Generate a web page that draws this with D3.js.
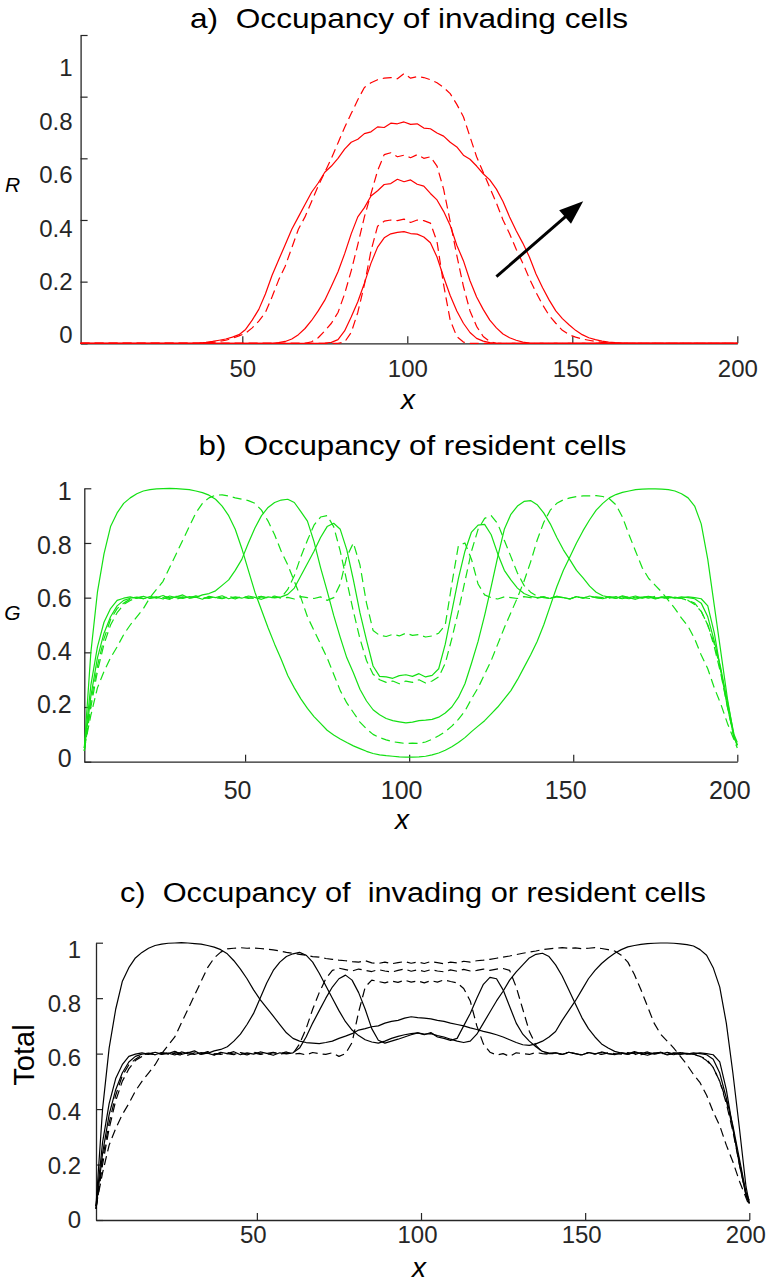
<!DOCTYPE html>
<html><head><meta charset="utf-8">
<script src="https://cdn.jsdelivr.net/npm/d3@7"></script>
<style>
body{margin:0;background:#fff}
svg{display:block}
text{font-family:"Liberation Sans",Arial,Helvetica,sans-serif}
</style>
</head><body>
<svg id="chart" width="771" height="1285"></svg>
<script>
// ---------- data ----------
const xGrid = d3.range(1, 200, 2).concat([200]); // lattice sites sampled
const xTickValues = [50, 100, 150, 200];
const yTickValues = [0, 0.2, 0.4, 0.6, 0.8, 1];
const yTickLabels = ["0", "0.2", "0.4", "0.6", "0.8", "1"];
const titles = ["a)  Occupancy of invading cells", "b)  Occupancy of resident cells", "c)  Occupancy of  invading or resident cells"];
const yAxisNames = ["R", "G", "Total"];
const arrowX = [127, 153.3];
const arrowY = [0.216, 0.461];

// a) invading cells R
const rS1 = [0,0,0,0,0,0,0,0,0,0, 0,0,0,0,0,0,0,0,0,0, 0,0,0,0,0,0,0,0,0,0,
 0,0,0,0,0,0,0,0.001,0.003,0.012,
 0.04,0.085,0.135,0.195,0.26,0.312,0.342,0.355,0.36,0.362,
 0.356,0.354,0.345,0.326,0.28,0.215,0.155,0.105,0.065,0.035,
 0.016,0.007,0.002,0,0,0,0,0,0,0,
 0,0,0,0,0,0,0,0,0,0, 0,0,0,0,0,0,0,0,0,0, 0,0,0,0,0,0,0,0,0,0, 0];
const rD1 = [0,0,0,0,0,0,0,0,0,0, 0,0,0,0,0,0,0,0,0,0, 0,0,0,0,0,0,0,0,0,0,
 0,0,0,0,0,0,0,0,0,0,
 0.004,0.035,0.1,0.19,0.3,0.38,0.396,0.4,0.398,0.403,
 0.392,0.4,0.398,0.39,0.33,0.19,0.075,0.022,0.004,0,
 0,0,0,0,0,0,0,0,0,0, 0,0,0,0,0,0,0,0,0,0, 0,0,0,0,0,0,0,0,0,0, 0,0,0,0,0,0,0,0,0,0, 0];
const rS2 = [0,0,0,0,0,0,0,0,0,0, 0,0,0,0,0,0,0,0,0,0, 0,0,0,0,0,0,0,0,0,0,
 0.002,0.006,0.014,0.028,0.048,0.074,0.105,0.14,0.185,0.232,
 0.29,0.355,0.41,0.44,0.478,0.495,0.515,0.518,0.532,0.524,
 0.53,0.516,0.51,0.486,0.465,0.428,0.382,0.318,0.268,0.203,
 0.15,0.11,0.075,0.05,0.03,0.018,0.01,0.004,0.001,0,
 0,0,0,0,0,0,0,0,0,0, 0,0,0,0,0,0,0,0,0,0, 0,0,0,0,0,0,0,0,0,0, 0];
const rD2 = [0,0,0,0,0,0,0,0,0,0, 0,0,0,0,0,0,0,0,0,0, 0,0,0,0,0,0,0,0,0,0,
 0,0,0,0,0,0.005,0.018,0.04,0.065,0.1,
 0.16,0.235,0.32,0.41,0.485,0.56,0.612,0.618,0.605,0.61,
 0.602,0.612,0.6,0.605,0.575,0.5,0.395,0.285,0.185,0.105,
 0.055,0.022,0.006,0,0,0,0,0,0,0,
 0,0,0,0,0,0,0,0,0,0, 0,0,0,0,0,0,0,0,0,0, 0,0,0,0,0,0,0,0,0,0, 0];
const rS3 = [0,0,0,0,0,0,0,0,0,0,
 0,0,0,0,0,0,0,0,0.001,0.003,
 0.006,0.01,0.014,0.02,0.028,0.045,0.075,0.11,0.16,0.22,
 0.27,0.32,0.37,0.41,0.45,0.49,0.52,0.555,0.575,0.6,
 0.63,0.652,0.662,0.68,0.686,0.702,0.7,0.714,0.712,0.718,
 0.71,0.712,0.698,0.696,0.682,0.672,0.652,0.637,0.61,0.597,
 0.575,0.55,0.53,0.5,0.46,0.41,0.365,0.325,0.28,0.225,
 0.18,0.14,0.105,0.08,0.06,0.042,0.028,0.018,0.012,0.007,
 0.004,0.002,0.001,0,0,0,0,0,0,0,
 0,0,0,0,0,0,0,0,0,0, 0];
const rD3 = [0,0,0,0,0,0,0,0,0,0,
 0,0,0,0,0,0,0,0,0,0.001,
 0.003,0.006,0.01,0.016,0.024,0.033,0.05,0.072,0.1,0.15,
 0.205,0.25,0.31,0.37,0.41,0.46,0.51,0.555,0.6,0.65,
 0.7,0.745,0.79,0.83,0.845,0.855,0.86,0.862,0.858,0.875,
 0.86,0.865,0.862,0.855,0.845,0.83,0.81,0.775,0.735,0.67,
 0.605,0.555,0.505,0.455,0.4,0.355,0.305,0.26,0.21,0.165,
 0.125,0.09,0.065,0.042,0.028,0.02,0.014,0.01,0.006,0.003,
 0.001,0,0,0,0,0,0,0,0,0,
 0,0,0,0,0,0,0,0,0,0, 0];

// b) resident cells G
const gS1 = [0.04,0.24,0.38,0.47,0.53,0.57,0.59,0.598,0.602,0.596,
 0.604,0.6,0.608,0.597,0.603,0.61,0.598,0.602,0.594,0.605,
 0.6,0.607,0.596,0.603,0.598,0.606,0.601,0.594,0.603,0.599,
 0.603,0.612,0.635,0.68,0.725,0.77,0.82,0.86,0.872,0.85,
 0.775,0.665,0.545,0.445,0.35,0.312,0.31,0.305,0.315,0.318,
 0.312,0.322,0.31,0.316,0.34,0.43,0.55,0.67,0.77,0.84,
 0.865,0.868,0.83,0.76,0.7,0.665,0.635,0.615,0.605,0.6,
 0.603,0.597,0.605,0.6,0.595,0.604,0.598,0.606,0.6,0.596,
 0.603,0.598,0.607,0.6,0.594,0.602,0.605,0.597,0.603,0.599,
 0.601,0.598,0.603,0.6,0.596,0.57,0.47,0.33,0.2,0.09,
 0.06];
const gS2 = [0.05,0.28,0.42,0.51,0.56,0.59,0.598,0.603,0.597,0.605,
 0.598,0.602,0.595,0.606,0.6,0.597,0.604,0.601,0.61,0.615,
 0.625,0.645,0.665,0.7,0.74,0.8,0.855,0.9,0.93,0.948,
 0.957,0.96,0.948,0.915,0.88,0.805,0.71,0.625,0.535,0.455,
 0.38,0.325,0.265,0.222,0.19,0.172,0.158,0.15,0.146,0.142,
 0.145,0.15,0.152,0.155,0.163,0.178,0.2,0.235,0.285,0.36,
 0.44,0.535,0.64,0.75,0.85,0.905,0.935,0.952,0.955,0.94,
 0.91,0.87,0.82,0.775,0.738,0.7,0.672,0.642,0.62,0.607,
 0.602,0.597,0.604,0.6,0.606,0.598,0.603,0.595,0.601,0.604,
 0.598,0.603,0.6,0.596,0.58,0.53,0.44,0.34,0.22,0.1,
 0.07];
const gS3 = [0.05,0.4,0.62,0.76,0.86,0.91,0.945,0.965,0.98,0.99,
 0.995,0.998,0.999,1.0,0.999,0.997,0.995,0.99,0.984,0.975,
 0.96,0.935,0.9,0.85,0.78,0.7,0.62,0.555,0.49,0.43,
 0.375,0.315,0.27,0.23,0.195,0.165,0.14,0.115,0.098,0.083,
 0.07,0.058,0.048,0.038,0.03,0.025,0.022,0.02,0.018,0.017,
 0.017,0.018,0.02,0.025,0.032,0.042,0.055,0.07,0.088,0.11,
 0.13,0.15,0.175,0.2,0.23,0.26,0.3,0.345,0.39,0.44,
 0.5,0.57,0.64,0.7,0.75,0.8,0.845,0.885,0.92,0.945,
 0.965,0.977,0.985,0.99,0.995,0.997,0.998,0.998,0.997,0.995,
 0.99,0.98,0.965,0.935,0.87,0.74,0.57,0.4,0.23,0.09,
 0.06];
const gD1 = [0.04,0.2,0.33,0.43,0.5,0.545,0.575,0.59,0.6,0.596,
 0.603,0.598,0.606,0.6,0.594,0.603,0.599,0.607,0.6,0.597,
 0.604,0.598,0.602,0.595,0.605,0.6,0.597,0.603,0.6,0.606,
 0.598,0.601,0.595,0.604,0.6,0.597,0.603,0.59,0.6,0.65,
 0.75,0.8,0.72,0.58,0.48,0.462,0.458,0.466,0.46,0.47,
 0.462,0.465,0.456,0.46,0.47,0.5,0.65,0.79,0.8,0.74,
 0.65,0.61,0.6,0.595,0.603,0.6,0.597,0.604,0.6,0.598,
 0.603,0.598,0.605,0.6,0.596,0.603,0.599,0.604,0.6,0.597,
 0.603,0.6,0.596,0.604,0.599,0.602,0.598,0.605,0.6,0.597,
 0.601,0.598,0.59,0.575,0.55,0.5,0.42,0.32,0.2,0.09,
 0.06];
const gD2 = [0.04,0.22,0.35,0.45,0.52,0.56,0.58,0.595,0.6,0.604,
 0.597,0.603,0.6,0.594,0.605,0.6,0.598,0.603,0.597,0.602,
 0.6,0.596,0.604,0.599,0.603,0.597,0.601,0.605,0.598,0.602,
 0.6,0.63,0.68,0.75,0.81,0.865,0.895,0.9,0.86,0.77,
 0.66,0.55,0.45,0.37,0.32,0.3,0.29,0.295,0.285,0.295,
 0.29,0.3,0.288,0.295,0.31,0.36,0.45,0.55,0.66,0.77,
 0.85,0.89,0.9,0.87,0.81,0.75,0.69,0.645,0.62,0.605,
 0.6,0.597,0.603,0.6,0.595,0.604,0.6,0.597,0.603,0.6,
 0.598,0.604,0.6,0.596,0.602,0.599,0.605,0.6,0.596,0.603,
 0.6,0.597,0.59,0.58,0.55,0.5,0.43,0.33,0.21,0.09,
 0.06];
const gD3 = [0.05,0.17,0.27,0.33,0.38,0.42,0.465,0.5,0.53,0.56,
 0.6,0.63,0.66,0.71,0.76,0.81,0.86,0.91,0.945,0.965,
 0.975,0.976,0.972,0.965,0.96,0.955,0.945,0.92,0.88,0.83,
 0.77,0.72,0.66,0.6,0.53,0.48,0.43,0.38,0.32,0.26,
 0.215,0.18,0.145,0.12,0.1,0.088,0.08,0.073,0.07,0.066,
 0.068,0.067,0.072,0.082,0.095,0.11,0.13,0.155,0.185,0.23,
 0.27,0.32,0.37,0.43,0.49,0.545,0.6,0.66,0.73,0.81,
 0.875,0.92,0.945,0.958,0.965,0.97,0.972,0.972,0.973,0.97,
 0.962,0.94,0.895,0.83,0.77,0.71,0.67,0.645,0.62,0.59,
 0.56,0.525,0.495,0.45,0.39,0.34,0.27,0.21,0.14,0.08,
 0.05];

// c) total occupancy
const tS1 = [0.04,0.24,0.38,0.47,0.53,0.57,0.59,0.598,0.602,0.596,
 0.604,0.6,0.608,0.597,0.603,0.61,0.598,0.602,0.594,0.605,
 0.6,0.607,0.596,0.603,0.598,0.606,0.601,0.594,0.603,0.599,
 0.603,0.62,0.66,0.71,0.755,0.8,0.84,0.87,0.883,0.865,
 0.82,0.76,0.69,0.648,0.638,0.645,0.652,0.66,0.668,0.675,
 0.668,0.676,0.66,0.655,0.648,0.655,0.7,0.745,0.8,0.85,
 0.875,0.87,0.83,0.77,0.71,0.67,0.645,0.625,0.608,0.602,
 0.603,0.597,0.605,0.6,0.595,0.604,0.598,0.606,0.6,0.596,
 0.603,0.598,0.607,0.6,0.594,0.602,0.605,0.597,0.603,0.599,
 0.601,0.598,0.603,0.6,0.596,0.57,0.47,0.33,0.2,0.09,
 0.06];
const tS2 = [0.05,0.28,0.42,0.51,0.56,0.59,0.598,0.603,0.597,0.605,
 0.598,0.602,0.595,0.606,0.6,0.597,0.604,0.601,0.61,0.615,
 0.625,0.645,0.67,0.705,0.745,0.8,0.855,0.9,0.93,0.95,
 0.96,0.965,0.955,0.93,0.89,0.845,0.8,0.755,0.715,0.685,
 0.665,0.65,0.642,0.638,0.645,0.655,0.662,0.668,0.672,0.675,
 0.67,0.672,0.665,0.66,0.652,0.645,0.64,0.645,0.67,0.71,
 0.75,0.79,0.825,0.865,0.895,0.92,0.945,0.958,0.962,0.95,
 0.92,0.88,0.83,0.78,0.73,0.69,0.66,0.635,0.62,0.608,
 0.602,0.597,0.604,0.6,0.606,0.598,0.603,0.595,0.601,0.604,
 0.598,0.603,0.6,0.596,0.58,0.53,0.44,0.34,0.22,0.1,
 0.07];
const tS3 = [0.05,0.4,0.62,0.76,0.86,0.91,0.945,0.965,0.98,0.99,
 0.995,0.998,0.999,1.0,0.999,0.997,0.995,0.99,0.984,0.975,
 0.96,0.935,0.905,0.87,0.83,0.795,0.765,0.735,0.705,0.675,
 0.655,0.645,0.64,0.638,0.636,0.64,0.645,0.655,0.663,0.672,
 0.685,0.69,0.697,0.7,0.71,0.716,0.72,0.728,0.733,0.73,
 0.728,0.725,0.72,0.716,0.71,0.705,0.7,0.693,0.687,0.68,
 0.675,0.668,0.66,0.65,0.64,0.632,0.63,0.635,0.645,0.66,
 0.68,0.72,0.755,0.79,0.83,0.87,0.9,0.925,0.945,0.962,
 0.975,0.985,0.99,0.994,0.997,0.998,0.999,0.999,0.998,0.996,
 0.993,0.988,0.975,0.955,0.91,0.84,0.71,0.53,0.33,0.12,
 0.06];
const tD1 = [0.04,0.2,0.33,0.43,0.5,0.545,0.575,0.59,0.6,0.596,
 0.603,0.598,0.606,0.6,0.594,0.603,0.599,0.607,0.6,0.597,
 0.604,0.598,0.602,0.595,0.605,0.6,0.597,0.603,0.6,0.606,
 0.598,0.601,0.595,0.604,0.6,0.597,0.603,0.59,0.6,0.64,
 0.75,0.84,0.865,0.86,0.855,0.862,0.857,0.865,0.858,0.862,
 0.855,0.863,0.858,0.866,0.86,0.855,0.835,0.79,0.7,0.635,
 0.605,0.595,0.6,0.59,0.603,0.6,0.597,0.604,0.6,0.598,
 0.603,0.598,0.605,0.6,0.596,0.603,0.599,0.604,0.6,0.597,
 0.603,0.6,0.596,0.604,0.599,0.602,0.598,0.605,0.6,0.597,
 0.601,0.598,0.59,0.575,0.55,0.5,0.42,0.32,0.2,0.09,
 0.06];
const tD2 = [0.04,0.22,0.35,0.45,0.52,0.56,0.58,0.595,0.6,0.604,
 0.597,0.603,0.6,0.594,0.605,0.6,0.598,0.603,0.597,0.602,
 0.6,0.596,0.604,0.599,0.603,0.597,0.601,0.605,0.598,0.602,
 0.6,0.635,0.69,0.76,0.82,0.87,0.9,0.908,0.903,0.898,
 0.905,0.9,0.896,0.903,0.898,0.894,0.9,0.905,0.897,0.902,
 0.896,0.903,0.898,0.895,0.902,0.897,0.904,0.898,0.9,0.905,
 0.9,0.905,0.907,0.9,0.84,0.76,0.68,0.63,0.605,0.6,
 0.6,0.597,0.603,0.6,0.595,0.604,0.6,0.597,0.603,0.6,
 0.598,0.604,0.6,0.596,0.602,0.599,0.605,0.6,0.596,0.603,
 0.6,0.597,0.59,0.58,0.55,0.5,0.43,0.33,0.21,0.09,
 0.06];
const tD3 = [0.05,0.17,0.27,0.33,0.38,0.42,0.465,0.5,0.53,0.56,
 0.6,0.63,0.66,0.71,0.76,0.81,0.86,0.91,0.945,0.966,
 0.978,0.98,0.982,0.98,0.981,0.979,0.977,0.974,0.97,0.965,
 0.962,0.958,0.955,0.95,0.948,0.943,0.94,0.937,0.935,0.932,
 0.93,0.935,0.927,0.925,0.93,0.924,0.928,0.932,0.926,0.93,
 0.925,0.932,0.928,0.924,0.93,0.927,0.933,0.93,0.935,0.937,
 0.94,0.944,0.948,0.952,0.957,0.962,0.966,0.97,0.975,0.978,
 0.98,0.982,0.98,0.981,0.978,0.98,0.982,0.979,0.975,0.97,
 0.955,0.93,0.885,0.83,0.77,0.71,0.67,0.645,0.62,0.59,
 0.56,0.525,0.495,0.45,0.39,0.34,0.27,0.21,0.14,0.08,
 0.05];

// ---------- layout ----------
const svg = d3.select("#chart");
const AX = "#262626";

const panels = [
  {series: [[rS1,false],[rS2,false],[rS3,false],[rD1,true],[rD2,true],[rD3,true]],
   color: "#ff0000", title: titles[0], tx: 409, ty: 28.3, tsize: 28, tlen: 438,
   x0: 80.6, x1: 737.3, yb: 343.3, yt: 35, labB: 335, labT: 68.3,
   xPad: 16.7, xdx: 0, yPad: 8, tickFont: 24,
   yName: yAxisNames[0], yNameX: 12.5, yNameY: 191.7, yNameSize: 21, yNameItalic: true, yNameRot: false,
   xNameX: 408, xNameY: 409},
  {series: [[gS1,false],[gS2,false],[gS3,false],[gD1,true],[gD2,true],[gD3,true]],
   color: "#14e014", title: titles[1], tx: 412.5, ty: 455, tsize: 28, tlen: 428,
   x0: 84.3, x1: 737.3, yb: 761.7, yt: 488.3, labB: 758.3, labT: 491.7,
   xPad: 19.3, xdx: -8, yPad: 12.6, tickFont: 25,
   yName: yAxisNames[1], yNameX: 12.5, yNameY: 620, yNameSize: 21, yNameItalic: true, yNameRot: false,
   xNameX: 402, xNameY: 829},
  {series: [[tS1,false],[tS2,false],[tS3,false],[tD1,true],[tD2,true],[tD3,true]],
   color: "#000000", title: titles[2], tx: 413, ty: 902, tsize: 27, tlen: 586,
   x0: 96, x1: 749.3, yb: 1220, yt: 942.7, labB: 1220, labT: 950,
   xPad: 6, xdx: -4, yPad: 15, tickFont: 24,
   yName: yAxisNames[2], yNameX: 34, yNameY: 1055, yNameSize: 29, yNameItalic: false, yNameRot: true,
   xNameX: 419, xNameY: 1277}
];

panels.forEach((p, pi) => {
  const x = d3.scaleLinear().domain([1, 200]).range([p.x0, p.x1]);
  const y = d3.scaleLinear().domain([0, 1]).range([p.yb, p.yt]);
  const yLab = d3.scaleLinear().domain([0, 1]).range([p.labB, p.labT]);

  // title
  svg.append("text").attr("x", p.tx).attr("y", p.ty)
    .attr("text-anchor", "middle").attr("font-size", p.tsize).attr("fill", "#000")
    .attr("textLength", p.tlen).attr("lengthAdjust", "spacingAndGlyphs")
    .style("white-space", "pre").attr("xml:space", "preserve")
    .text(p.title);

  // axes
  const gx = svg.append("g").attr("transform", `translate(0,${p.yb})`)
    .call(d3.axisBottom(x).tickValues(xTickValues).tickSize(-7).tickSizeOuter(0)
      .tickPadding(p.xPad).tickFormat(d3.format("d")));
  const gy = svg.append("g").attr("transform", `translate(${p.x0},0)`)
    .call(d3.axisLeft(y).tickValues(yTickValues).tickSize(-7).tickSizeOuter(0)
      .tickPadding(p.yPad).tickFormat((d, i) => yTickLabels[i]));
  [gx, gy].forEach(g => {
    g.select(".domain").attr("stroke", AX).attr("stroke-width", 1.3);
    g.selectAll(".tick line").attr("stroke", AX).attr("stroke-width", 1.2);
    g.selectAll(".tick text").attr("fill", AX).attr("font-size", p.tickFont)
      .attr("font-family", '"Liberation Sans",Arial,Helvetica,sans-serif');
  });
  gx.selectAll(".tick text").attr("dx", p.xdx);
  gy.selectAll(".tick text").attr("y", d => yLab(d) - y(d));

  // axis names
  const yn = svg.append("text").attr("font-size", p.yNameSize).attr("fill", "#000")
    .attr("text-anchor", "middle")
    .attr("font-style", p.yNameItalic ? "italic" : "normal").text(p.yName);
  if (p.yNameRot) yn.attr("transform", `translate(${p.yNameX},${p.yNameY}) rotate(-90)`);
  else yn.attr("x", p.yNameX).attr("y", p.yNameY);
  svg.append("text").attr("x", p.xNameX).attr("y", p.xNameY)
    .attr("text-anchor", "middle").attr("font-size", 28).attr("font-style", "italic")
    .attr("fill", "#000").text("x");

  // curves
  const line = d3.line().x((d, i) => x(xGrid[i])).y(d => y(d));
  p.series.forEach(([vals, dashed]) => {
    svg.append("path").attr("d", line(vals)).attr("fill", "none")
      .attr("stroke", p.color).attr("stroke-width", 1.2)
      .attr("stroke-linejoin", "round")
      .attr("stroke-dasharray", dashed ? "9,5" : null);
  });

  // arrow in panel a
  if (pi === 0) {
    const x0 = x(arrowX[0]), y0 = y(arrowY[0]), x1 = x(arrowX[1]), y1 = y(arrowY[1]);
    const dx = x1 - x0, dy = y1 - y0, L = Math.hypot(dx, dy);
    const ux = dx / L, uy = dy / L, nx = -uy, ny = ux;
    const hl = 24, hw = 9;
    const bx = x1 - ux * hl, by = y1 - uy * hl;
    svg.append("line").attr("x1", x0).attr("y1", y0)
      .attr("x2", bx + ux * 4).attr("y2", by + uy * 4)
      .attr("stroke", "#000").attr("stroke-width", 3);
    svg.append("path")
      .attr("d", `M${x1},${y1}L${bx + nx * hw},${by + ny * hw}L${bx - nx * hw},${by - ny * hw}Z`)
      .attr("fill", "#000");
  }
});
</script>
</body></html>
